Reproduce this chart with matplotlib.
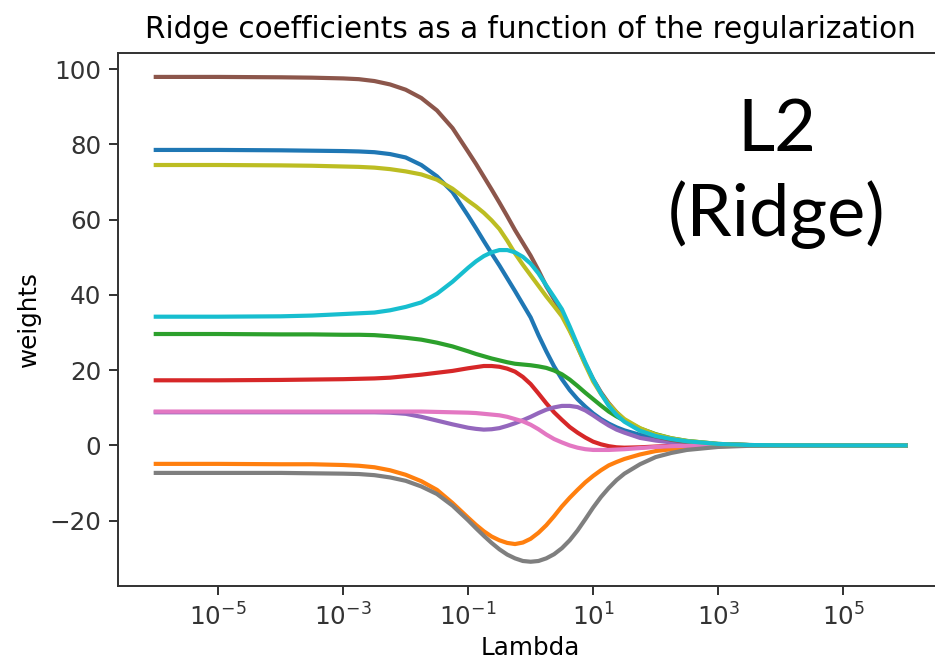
import matplotlib
matplotlib.use("Agg")
import matplotlib.pyplot as plt
import numpy as np


log_lambda = [-6, -5, -4, -3.5, -3, -2.75, -2.5, -2.25, -2, -1.75, -1.5, -1.25,
              -1, -0.875, -0.75, -0.625, -0.5, -0.375, -0.25, -0.125,
              0, 0.125, 0.25, 0.375, 0.5, 0.625, 0.75, 0.875,
              1, 1.125, 1.25, 1.375, 1.5, 1.75, 2, 2.25, 2.5, 3, 3.5, 4, 5, 6]

w_blue = [78.5, 78.5, 78.4, 78.3, 78.2, 78.1, 77.9, 77.4, 76.5, 74.5, 71.5, 67.3,
          61.0, 57.7, 54.3, 51.0, 47.8, 44.4, 41.0, 37.5,
          34.0, 29.3, 25.0, 21.0, 17.6, 14.7, 12.3, 10.3,
          8.5, 7.0, 5.8, 4.8, 4.0, 2.8, 1.9, 1.3, 0.9, 0.3, 0.1, 0.03, 0, 0]
w_orange = [-4.9, -4.9, -5.0, -5.0, -5.2, -5.4, -5.8, -6.6, -7.8, -9.5, -11.8, -15.3,
            -19.2, -21.1, -22.8, -24.2, -25.2, -25.9, -26.2, -25.8,
            -24.8, -23.2, -21.2, -18.8, -16.2, -13.9, -11.8, -9.8,
            -8.1, -6.6, -5.3, -4.4, -3.6, -2.4, -1.5, -1.0, -0.6, -0.2, -0.05, -0.02, 0, 0]
w_green = [29.6, 29.6, 29.5, 29.5, 29.4, 29.4, 29.3, 29.0, 28.6, 28.1, 27.3, 26.3,
           25.0, 24.3, 23.7, 23.1, 22.6, 22.1, 21.7, 21.5,
           21.3, 21.0, 20.6, 19.9, 18.9, 17.5, 15.8, 14.0,
           12.3, 10.6, 9.0, 7.7, 6.6, 4.5, 3.0, 1.9, 1.2, 0.4, 0.1, 0.04, 0, 0]
w_red = [17.3, 17.3, 17.4, 17.5, 17.6, 17.7, 17.8, 18.0, 18.4, 18.8, 19.3, 19.8,
         20.5, 20.8, 21.1, 21.1, 20.9, 20.4, 19.6, 18.2,
         16.3, 13.8, 11.2, 8.8, 6.8, 4.9, 3.4, 2.1,
         1.0, 0.3, -0.2, -0.5, -0.6, -0.5, -0.3, -0.1, 0.0, 0.1, 0.05, 0.02, 0, 0]
w_purple = [8.8, 8.8, 8.8, 8.8, 8.8, 8.8, 8.8, 8.7, 8.4, 7.6, 6.6, 5.6,
            4.7, 4.4, 4.2, 4.3, 4.6, 5.2, 5.9, 6.7,
            7.6, 8.6, 9.5, 10.1, 10.5, 10.5, 10.2, 9.3,
            8.0, 6.6, 5.3, 4.2, 3.4, 2.0, 1.3, 0.8, 0.5, 0.2, 0.05, 0.02, 0, 0]
w_brown = [97.9, 97.9, 97.8, 97.7, 97.5, 97.3, 96.8, 95.9, 94.5, 92.3, 89.0, 84.3,
           78.0, 74.8, 71.4, 68.0, 64.5, 60.9, 57.2, 53.8,
           50.4, 46.5, 42.3, 38.8, 35.3, 30.8, 26.2, 21.7,
           17.6, 14.1, 11.2, 8.8, 6.8, 4.0, 2.4, 1.5, 0.9, 0.3, 0.1, 0.03, 0, 0]
w_pink = [9.0, 9.0, 9.0, 9.0, 9.0, 9.0, 9.0, 9.0, 9.0, 9.0, 8.9, 8.8,
          8.7, 8.6, 8.4, 8.2, 8.0, 7.6, 7.0, 6.4,
          5.5, 4.3, 2.9, 1.7, 0.8, 0.0, -0.6, -1.0,
          -1.2, -1.2, -1.2, -1.1, -1.0, -0.7, -0.4, -0.2, -0.1, 0.0, 0, 0, 0, 0]
w_gray = [-7.3, -7.3, -7.3, -7.4, -7.5, -7.6, -7.9, -8.5, -9.4, -10.9, -12.9, -16.0,
          -19.9, -22.0, -24.0, -25.9, -27.6, -29.0, -30.0, -30.7,
          -30.9, -30.7, -30.0, -28.9, -27.3, -25.2, -22.6, -19.6,
          -16.5, -13.7, -11.3, -9.2, -7.5, -5.0, -3.1, -2.0, -1.2, -0.4, -0.1, -0.04, 0, 0]
w_olive = [74.5, 74.5, 74.4, 74.3, 74.1, 74.0, 73.8, 73.4, 72.8, 72.0, 70.6, 68.2,
           65.0, 63.5, 61.8, 59.8, 57.5, 54.4, 51.0, 48.0,
           45.2, 42.4, 39.6, 37.0, 34.3, 30.4, 26.1, 21.4,
           17.0, 13.7, 11.0, 8.8, 7.0, 4.6, 2.9, 1.9, 1.2, 0.4, 0.1, 0.04, 0, 0]
w_cyan = [34.2, 34.2, 34.3, 34.5, 34.9, 35.1, 35.3, 35.9, 36.8, 38.0, 40.3, 43.5,
          47.2, 48.9, 50.3, 51.3, 51.9, 51.9, 51.3, 50.1,
          48.3, 45.7, 42.5, 39.4, 36.2, 31.6, 26.7, 22.0,
          17.6, 13.8, 10.5, 8.1, 6.3, 3.9, 2.5, 1.7, 1.1, 0.4, 0.1, 0.04, 0, 0]

weights = [w_blue, w_orange, w_green, w_red, w_purple,
           w_brown, w_pink, w_gray, w_olive, w_cyan]

alphas = 10.0 ** np.array(log_lambda)

k = 2.46 * 0.72  # screenshot was blown up ~2.46x from a 72 dpi figure
plt.rcParams['font.family'] = ['DejaVu Sans']

fig = plt.figure(figsize=(9.35, 6.71), dpi=100)
ax = fig.add_axes([0.1265, 0.1267, 0.8821, 0.7948])

for w in weights:
    ax.plot(alphas, w, linewidth=3.0, solid_joinstyle='round')

ax.set_xscale('log')
ax.set_xlabel('Lambda', fontsize=10 * k)
ax.set_ylabel('weights', fontsize=10 * k, labelpad=6)
ax.set_title('Ridge coefficients as a function of the regularization',
             fontsize=12 * k, pad=6 * k)
ax.tick_params(labelsize=10 * k, length=3.5 * k, width=0.8 * k, pad=3.5 * k,
               colors='#333333')
ax.tick_params(which='minor', length=0)
ax.set_xticks([1e-5, 1e-3, 1e-1, 1e1, 1e3, 1e5])
for sp in ax.spines.values():
    sp.set_linewidth(0.8 * k)
    sp.set_color('#333333')

fig.text(0.831, 0.806, 'L2', fontsize=52, family='Lato', ha='center', va='center')
fig.text(0.831, 0.680, '(Ridge)', fontsize=52, family='Lato', ha='center', va='center')

fig.savefig('out.png', dpi=100)
